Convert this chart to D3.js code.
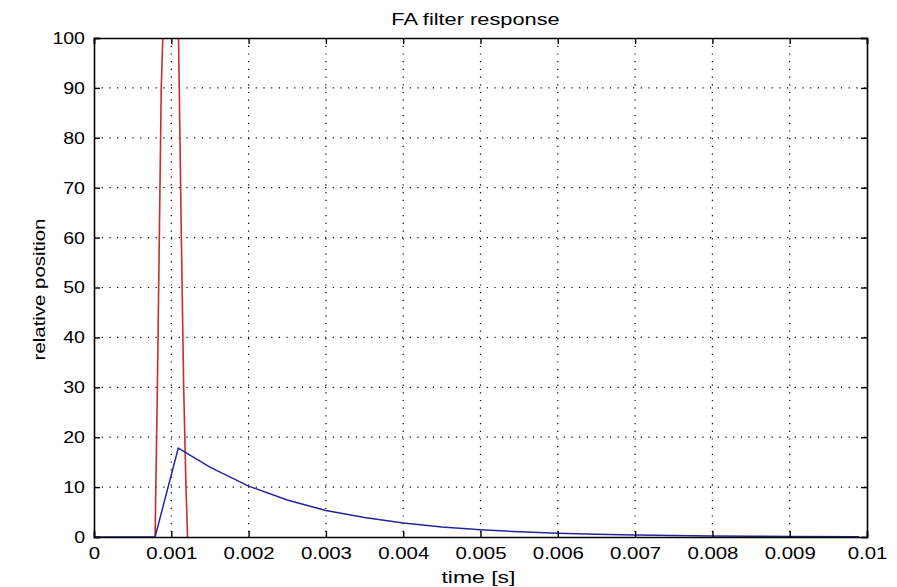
<!DOCTYPE html>
<html>
<head>
<meta charset="utf-8">
<script src="https://cdn.jsdelivr.net/npm/d3@7"></script>
<style>
  body { margin: 0; background: #fff; }
  text { font-family: "Liberation Sans", Arial, sans-serif; fill: #000; }
</style>
</head>
<body>
<div class="chart"></div>
<script>
const svgWidth = 897;
const svgHeight = 587;

const margin = { top: 38, right: 30, bottom: 50, left: 94 };
const width = 867 - margin.left;
const height = 537 - margin.top;

// Blue curve: filter output (time [s], relative position)
const blueTime = [0, 0.00079, 0.00109, 0.0015, 0.002, 0.0025, 0.003, 0.0035, 0.004, 0.0045,
  0.005, 0.0055, 0.006, 0.0065, 0.007, 0.0075, 0.008, 0.0085, 0.009, 0.0099];
const blueValue = [0, 0, 17.8, 14.0, 10.2, 7.4, 5.3, 3.9, 2.8, 2.0,
  1.45, 1.05, 0.76, 0.55, 0.40, 0.29, 0.21, 0.15, 0.11, 0.06];

// Red curve: input pulse (goes off the top of the axes)
const redTime = [0.00079, 0.00080, 0.00082, 0.000845, 0.00087, 0.00092, 0.001, 0.00108, 0.00113, 0.00116, 0.00119, 0.00121];
const redValue = [0, 10, 30, 60, 90, 115, 140, 115, 60, 30, 10, 0];

const xTicks = [0, 0.001, 0.002, 0.003, 0.004, 0.005, 0.006, 0.007, 0.008, 0.009, 0.01];
const yTicks = [0, 10, 20, 30, 40, 50, 60, 70, 80, 90, 100];

const svg = d3.select('.chart')
  .append('svg')
  .attr('width', svgWidth)
  .attr('height', svgHeight);

const chartGroup = svg.append('g')
  .attr('transform', `translate(${margin.left}, ${margin.top})`);

const xScale = d3.scaleLinear().domain([0, 0.01]).range([0, width]);
const yScale = d3.scaleLinear().domain([0, 100]).range([height, 0]);

// the original figure's text is rendered wide, so stretch it horizontally
function stretch(sel, k) {
  sel.each(function() {
    const w = this.getComputedTextLength();
    d3.select(this).attr('textLength', w * k).attr('lengthAdjust', 'spacingAndGlyphs');
  });
}

// dotted grid
chartGroup.append('g')
  .selectAll('line')
  .data(xTicks.slice(1, -1))
  .enter()
  .append('line')
  .attr('x1', d => xScale(d)).attr('x2', d => xScale(d))
  .attr('y1', 0).attr('y2', height)
  .attr('stroke', '#000')
  .attr('stroke-width', 1.2)
  .attr('stroke-dasharray', '1.2,6.5');
chartGroup.append('g')
  .selectAll('line')
  .data(yTicks.slice(1, -1))
  .enter()
  .append('line')
  .attr('x1', 0).attr('x2', width)
  .attr('y1', d => yScale(d)).attr('y2', d => yScale(d))
  .attr('stroke', '#000')
  .attr('stroke-width', 1.2)
  .attr('stroke-dasharray', '1.2,6.5');

// curves, clipped to the axes box
svg.append('defs').append('clipPath').attr('id', 'clip')
  .append('rect').attr('width', width).attr('height', height);

const line = d3.line()
  .x(d => xScale(d[0]))
  .y(d => yScale(d[1]));

const plot = chartGroup.append('g').attr('clip-path', 'url(#clip)');
plot.append('path')
  .datum(redTime.map((t, i) => [t, redValue[i]]))
  .attr('d', line)
  .attr('fill', 'none')
  .attr('stroke', '#cc2b2b')
  .attr('stroke-width', 1.6);
plot.append('path')
  .datum(blueTime.map((t, i) => [t, blueValue[i]]))
  .attr('d', line)
  .attr('fill', 'none')
  .attr('stroke', '#25259e')
  .attr('stroke-width', 1.5);

// axes with inward ticks on all four sides
const fmtX = d => d === 0 ? '0' : String(+d.toFixed(3));
const xAxis = chartGroup.append('g')
  .attr('transform', `translate(0, ${height})`)
  .call(d3.axisBottom(xScale).tickValues(xTicks).tickSize(-6).tickPadding(10).tickFormat(fmtX));
const yAxis = chartGroup.append('g')
  .call(d3.axisLeft(yScale).tickValues(yTicks).tickSize(-6).tickPadding(9).tickFormat(d3.format('d')));
const xTop = chartGroup.append('g')
  .call(d3.axisTop(xScale).tickValues(xTicks).tickSize(-6).tickFormat(''));
const yRight = chartGroup.append('g')
  .attr('transform', `translate(${width}, 0)`)
  .call(d3.axisRight(yScale).tickValues(yTicks).tickSize(-6).tickFormat(''));

[xAxis, yAxis, xTop, yRight].forEach(a => {
  a.selectAll('.domain').attr('stroke', '#000').attr('stroke-width', 1.6);
  a.selectAll('.tick line').attr('stroke', '#000').attr('stroke-width', 1.4);
  a.selectAll('text').attr('font-size', 17).style('font-family', '"Liberation Sans", Arial, sans-serif');
});
xAxis.selectAll('text').attr('dy', '0.71em');
stretch(xAxis.selectAll('text'), 1.2);
stretch(yAxis.selectAll('text'), 1.15);

// labels
const title = svg.append('text')
  .attr('x', margin.left + width / 2 - 5)
  .attr('y', 25)
  .attr('text-anchor', 'middle')
  .attr('font-size', 16.5)
  .text('FA filter response');
const xLabel = svg.append('text')
  .attr('x', margin.left + width / 2 - 2)
  .attr('y', 583)
  .attr('text-anchor', 'middle')
  .attr('font-size', 17)
  .text('time [s]');
const yLabel = svg.append('text')
  .attr('transform', `translate(45, ${margin.top + height / 2 + 2}) rotate(-90)`)
  .attr('text-anchor', 'middle')
  .attr('font-size', 17)
  .text('relative position');
stretch(title, 1.32);
stretch(xLabel, 1.35);
stretch(yLabel, 1.2);
</script>
</body>
</html>
